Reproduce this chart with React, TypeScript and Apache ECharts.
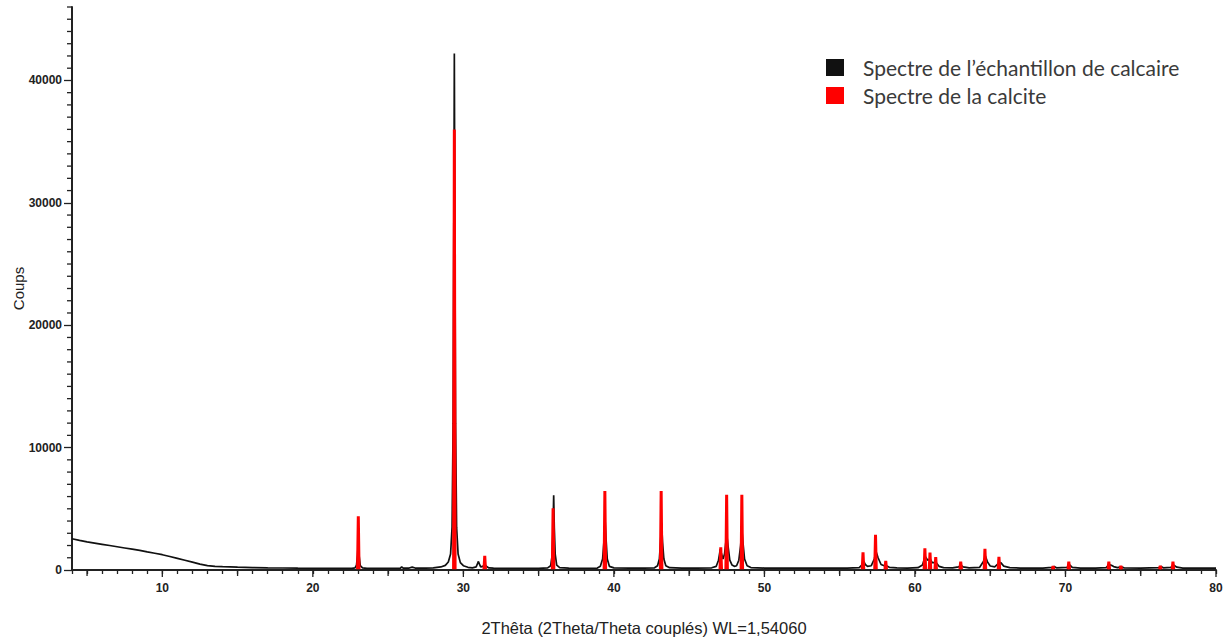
import React, { useEffect, useRef } from "react";
import * as echarts from "echarts";

// Measured sample spectrum (black) as [2θ, counts]
const sampleSpectrum: [number, number][] = [
  [4, 2550], [4.5, 2420], [5, 2300], [5.5, 2200], [6, 2100], [6.5, 2000], [7, 1900], [7.5, 1800],
  [8, 1700], [8.5, 1600], [9, 1480], [9.5, 1370], [10, 1250], [10.5, 1100], [11, 950], [11.5, 800],
  [12, 640], [12.5, 480], [13, 360], [13.5, 300], [14, 270], [15, 230], [16, 200], [17, 180],
  [18, 165], [19, 150], [20, 140], [21, 135], [22, 130], [22.6, 135],
  [22.8, 180], [22.9, 400], [22.97, 1200], [23.02, 2300], [23.08, 1100], [23.15, 350], [23.3, 170], [23.6, 140],
  [24, 135], [25, 130], [25.8, 140], [25.9, 260], [26.0, 150], [26.4, 160], [26.6, 230], [26.8, 160],
  [27, 150], [27.5, 160], [28, 180], [28.5, 250], [28.8, 380], [29.0, 650], [29.15, 1300], [29.25, 3500],
  [29.32, 12000], [29.37, 30000], [29.4, 42200], [29.43, 30000], [29.48, 12000], [29.55, 3500], [29.65, 1300],
  [29.8, 600], [30.0, 350], [30.3, 220], [30.6, 180], [30.85, 250], [30.95, 550], [31.0, 700], [31.06, 500],
  [31.15, 250], [31.3, 300], [31.42, 500], [31.52, 300], [31.7, 170], [32, 150], [33, 140], [34, 135],
  [35, 140], [35.6, 170], [35.8, 350], [35.9, 1200], [35.96, 3500], [36.0, 6100], [36.04, 3500], [36.1, 1300],
  [36.2, 400], [36.4, 200], [37, 150], [38, 145], [38.9, 160], [39.1, 300], [39.25, 900], [39.35, 2500],
  [39.42, 3950], [39.48, 2500], [39.56, 900], [39.7, 300], [40, 170], [41, 150], [42, 150], [42.7, 180],
  [42.9, 350], [43.02, 900], [43.1, 2300], [43.17, 3850], [43.23, 2300], [43.32, 900], [43.45, 350], [43.7, 190],
  [44.5, 160], [45.5, 160], [46.5, 180], [46.8, 300], [46.95, 800], [47.07, 1700], [47.15, 1300], [47.25, 900],
  [47.35, 1300], [47.43, 2200], [47.5, 2900], [47.58, 2000], [47.7, 800], [47.85, 400], [48.0, 300], [48.15, 350],
  [48.3, 800], [48.42, 2000], [48.5, 3350], [48.57, 2300], [48.68, 900], [48.85, 350], [49.1, 200], [50, 160],
  [52, 150], [54, 150], [55.5, 160], [56.3, 200], [56.5, 450], [56.6, 700], [56.7, 450], [56.85, 300],
  [57.1, 350], [57.3, 900], [57.42, 1500], [57.55, 1000], [57.75, 450], [58.0, 320], [58.1, 350], [58.3, 220],
  [58.8, 170], [59.5, 160], [60.2, 190], [60.5, 400], [60.68, 1100], [60.85, 800], [61.0, 900], [61.15, 600],
  [61.4, 600], [61.6, 300], [61.9, 190], [62.5, 170], [62.9, 250], [63.05, 400], [63.2, 250], [63.6, 170],
  [64.3, 220], [64.55, 700], [64.68, 1150], [64.82, 650], [65.0, 330], [65.3, 260], [65.55, 550], [65.7, 600],
  [65.9, 320], [66.3, 190], [67, 160], [68.5, 150], [69.1, 220], [69.25, 280], [69.4, 180], [70.1, 220],
  [70.28, 420], [70.45, 220], [71, 150], [72, 150], [72.7, 200], [72.9, 450], [73.05, 380], [73.2, 280],
  [73.45, 190], [73.7, 260], [73.9, 170], [75, 150], [76.2, 200], [76.35, 280], [76.5, 180], [77.0, 220],
  [77.2, 380], [77.4, 230], [77.8, 160], [79, 150], [80, 150],
];

// Calcite reference peaks (red)
const calcitePositions = [
  23.02, 29.4, 31.42, 35.96, 39.4, 43.14, 47.1, 47.49, 48.5, 56.55, 57.38, 58.06,
  60.66, 61.0, 61.38, 63.04, 64.65, 65.58, 69.18, 70.22, 72.88, 73.68, 76.3, 77.14,
];
const calciteHeights = [
  4400, 36000, 1150, 5050, 6450, 6450, 1850, 6150, 6150, 1450, 2880, 750,
  1780, 1420, 1050, 680, 1730, 1080, 330, 680, 680, 350, 350, 680,
];
const calciteBase = 60;

// Axis ranges, ticks and labels
const xRange = [4, 80];
const yRange = [0, 46000];
const yLabels = [0, 10000, 20000, 30000, 40000];
const yMinorTicks = [
  1000, 2000, 3000, 4000, 5000, 6000, 7000, 8000, 9000, 11000, 12000, 13000, 14000, 15000,
  16000, 17000, 18000, 19000, 21000, 22000, 23000, 24000, 25000, 26000, 27000, 28000, 29000,
  31000, 32000, 33000, 34000, 35000, 36000, 37000, 38000, 39000, 41000, 42000, 43000,
  44000, 45000, 46000,
];
const xMidTicks = [5, 15, 25, 35, 45, 55, 65, 75];
const xLabelTicks = [10, 20, 30, 40, 50, 60, 70, 80];
const xLabelStep = 10;
const yLabelStep = 10000;

const seriesNames = ["Spectre de l\u2019échantillon de calcaire", "Spectre de la calcite"];
const xTitle = "2Thêta (2Theta/Theta couplés) WL=1,54060";
const yTitle = "Coups";

export default function App() {
  const ref = useRef<HTMLDivElement>(null);

  useEffect(() => {
    document.body.style.margin = "0";
    if (!ref.current) return;
    const chart = echarts.init(ref.current, null, { renderer: "svg" });

    const redData: any[] = [];
    calcitePositions.forEach((p, i) => {
      redData.push([p - 0.05, calciteBase]);
      redData.push([p, calciteHeights[i]]);
      redData.push([p + 0.05, calciteBase]);
      redData.push([p + 0.06, "-"]);
    });

    const gridRect = {
      left: 72,
      right: 9,
      top: 7,
      bottom: 70,
      containLabel: false,
      outerBoundsMode: "none",
    };
    const axisColor = "#222";
    const font = "'Liberation Sans', Arial, sans-serif";
    const labelStyle = {
      color: "#222",
      fontSize: 12,
      fontWeight: "bold" as const,
      fontFamily: font,
    };
    const tickLine = { color: axisColor, width: 1.3 };

    // Tick marks drawn as a custom series, positioned through the axes' scales.
    // dx/dy: direction and length of the mark from the axis point.
    const tickSeries = (data: number[][], dx: number, dy: number) => ({
      type: "custom",
      xAxisIndex: 0,
      yAxisIndex: 0,
      data,
      silent: true,
      clip: false,
      z: 10,
      renderItem: (_params: any, api: any) => {
        const p = api.coord([api.value(0), api.value(1)]);
        return {
          type: "line",
          shape: { x1: p[0], y1: p[1], x2: p[0] + dx, y2: p[1] + dy },
          style: { stroke: axisColor, lineWidth: 1.3 },
        };
      },
    });

    chart.setOption({
      animation: false,
      backgroundColor: "#ffffff",
      grid: [{ ...gridRect }, { ...gridRect }],
      legend: {
        orient: "vertical",
        left: 826,
        top: 57,
        padding: 0,
        itemWidth: 18,
        itemHeight: 17,
        itemGap: 7,
        icon: "rect",
        selectedMode: false,
        data: seriesNames,
        textStyle: {
          fontFamily: "Lato, sans-serif",
          fontSize: 21,
          color: "#3a3a3a",
          lineHeight: 17,
          padding: [0, 0, 0, 14],
        },
      },
      xAxis: [
        {
          type: "value",
          gridIndex: 0,
          min: xRange[0],
          max: xRange[1],
          interval: 1,
          name: xTitle,
          nameLocation: "middle",
          nameGap: 49,
          nameTextStyle: { fontSize: 16.5, color: "#222", fontFamily: font },
          axisLine: { show: true, onZero: false, lineStyle: { color: axisColor, width: 2 } },
          axisTick: { show: true, length: 4, lineStyle: tickLine },
          axisLabel: {
            show: true,
            margin: 12,
            ...labelStyle,
            formatter: (v: number) => (Math.round(v) % xLabelStep === 0 ? String(Math.round(v)) : ""),
          },
          splitLine: { show: false },
        },
        {
          type: "value",
          gridIndex: 1,
          min: xRange[0],
          max: xRange[1],
          axisLine: { show: false },
          axisTick: { show: false },
          axisLabel: { show: false },
          splitLine: { show: false },
        },
      ],
      yAxis: [
        {
          type: "value",
          gridIndex: 0,
          min: yRange[0],
          max: yRange[1],
          name: yTitle,
          nameLocation: "middle",
          nameGap: 46,
          nameTextStyle: { fontSize: 15, color: "#222", fontFamily: font },
          axisLine: { show: true, onZero: false, lineStyle: { color: axisColor, width: 2 } },
          axisTick: { show: false },
          axisLabel: { show: false },
          splitLine: { show: false },
        },
        {
          type: "value",
          gridIndex: 1,
          min: yRange[0],
          max: yRange[1],
          axisLine: { show: false },
          axisTick: { show: true, customValues: yLabels, length: 8, lineStyle: tickLine },
          axisLabel: {
            show: true,
            customValues: yLabels,
            margin: 10,
            ...labelStyle,
            formatter: (v: number) => (Math.round(v) % yLabelStep === 0 ? String(Math.round(v)) : ""),
          },
          splitLine: { show: false },
        },
      ],
      series: [
        {
          name: seriesNames[0],
          type: "line",
          xAxisIndex: 0,
          yAxisIndex: 0,
          data: sampleSpectrum,
          showSymbol: false,
          symbol: "none",
          color: "#111111",
          lineStyle: { color: "#111111", width: 1.7 },
          z: 2,
        },
        {
          name: seriesNames[1],
          type: "line",
          xAxisIndex: 0,
          yAxisIndex: 0,
          data: redData,
          showSymbol: false,
          symbol: "none",
          connectNulls: false,
          color: "#ff0000",
          lineStyle: { color: "#ff0000", width: 3 },
          z: 3,
        },
        // y-axis minor ticks every 1000 counts (pointing left)
        tickSeries(yMinorTicks.map((v) => [xRange[0], v]), -5, 0),
        // x-axis medium ticks every 5° and major ticks every 10° (pointing down)
        tickSeries(xMidTicks.map((v) => [v, yRange[0]]), 0, 6),
        tickSeries(xLabelTicks.map((v) => [v, yRange[0]]), 0, 7),
        { type: "line", xAxisIndex: 1, yAxisIndex: 1, data: [], silent: true },
      ],
    });

    return () => chart.dispose();
  }, []);

  return <div ref={ref} style={{ width: 1225, height: 640 }} />;
}
